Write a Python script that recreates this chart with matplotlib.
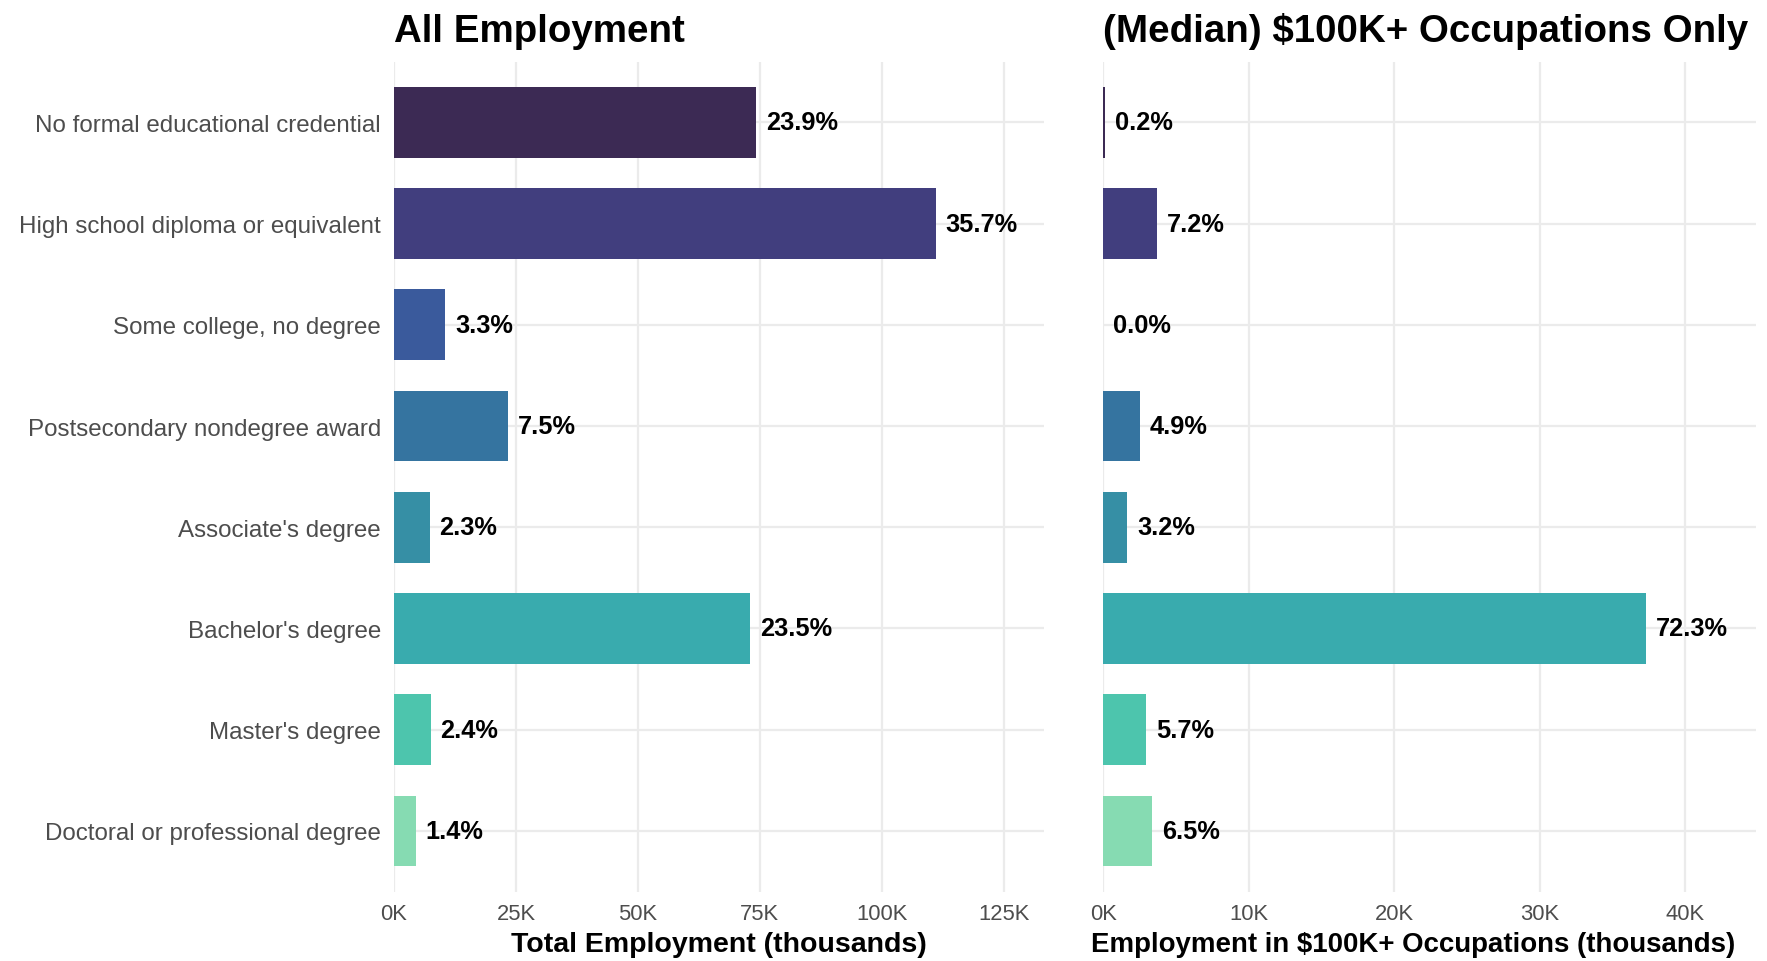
import matplotlib
matplotlib.use("Agg")
import matplotlib.pyplot as plt
from matplotlib.ticker import FuncFormatter

plt.rcParams['font.family'] = ['Liberation Sans', 'DejaVu Sans']

# education levels, top to bottom
levels = [
    "No formal educational credential",
    "High school diploma or equivalent",
    "Some college, no degree",
    "Postsecondary nondegree award",
    "Associate's degree",
    "Bachelor's degree",
    "Master's degree",
    "Doctoral or professional degree",
]

# total employment (thousands)
total_emp = [74.2, 111.1, 10.5, 23.3, 7.3, 73.0, 7.5, 4.5]
total_pct = ["23.9%", "35.7%", "3.3%", "7.5%", "2.3%", "23.5%", "2.4%", "1.4%"]

# employment in $100K+ occupations (thousands)
high_emp = [0.1, 3.7, 0.0, 2.5, 1.65, 37.3, 2.94, 3.35]
high_pct = ["0.2%", "7.2%", "0.0%", "4.9%", "3.2%", "72.3%", "5.7%", "6.5%"]

colors = ['#3C2A54', '#413E7E', '#3A5A9C', '#3574A0',
          '#368FA5', '#39ABAE', '#4DC5AD', '#86DBB2']

fig = plt.figure(figsize=(17.67, 9.62), dpi=100)
ax1 = fig.add_axes([0.223, 0.072, 0.368, 0.863])
ax2 = fig.add_axes([0.6245, 0.072, 0.3695, 0.863])


def kfmt(v, pos):
    return f"{int(round(v))}K"


def panel(ax, vals, pcts, title, xlabel, xmax, step, show_labels, xlsize):
    ypos = list(range(len(vals)))
    ax.barh(ypos, vals, height=0.7, color=colors, zorder=2)
    for y, v, p in zip(ypos, vals, pcts):
        ax.text(v + xmax * 0.015, y, p, va='center', ha='left',
                fontsize=18.3, fontweight='bold', color='black', zorder=3)
    ax.set_xlim(0, xmax)
    ax.set_ylim(len(vals) - 0.4, -0.6)
    ax.set_xticks([i * step for i in range(int(xmax // step) + 1)])
    ax.xaxis.set_major_formatter(FuncFormatter(kfmt))
    ax.set_yticks(ypos)
    if show_labels:
        ax.set_yticklabels(levels)
    else:
        ax.set_yticklabels([])
    ax.tick_params(axis='both', length=0, labelsize=15.8, colors='#4d4d4d', pad=8)
    ax.tick_params(axis='y', labelsize=17.4, pad=9.5)
    ax.grid(True, color='#ebebeb', linewidth=1.6, zorder=0)
    for s in ax.spines.values():
        s.set_visible(False)
    ax.set_title(title, loc='left', fontsize=27.7, fontweight='bold', pad=15)
    ax.set_xlabel(xlabel, fontsize=xlsize, fontweight='bold', labelpad=5)


panel(ax1, total_emp, total_pct, "All Employment",
      "Total Employment (thousands)", 133.3, 25, True, 20.5)
panel(ax2, high_emp, high_pct, "(Median) $100K+ Occupations Only",
      "Employment in $100K+ Occupations (thousands)", 44.9, 10, False, 19.9)
ax2.xaxis.label.set_x(0.475)

fig.savefig("out.png", dpi=100, facecolor='white')
